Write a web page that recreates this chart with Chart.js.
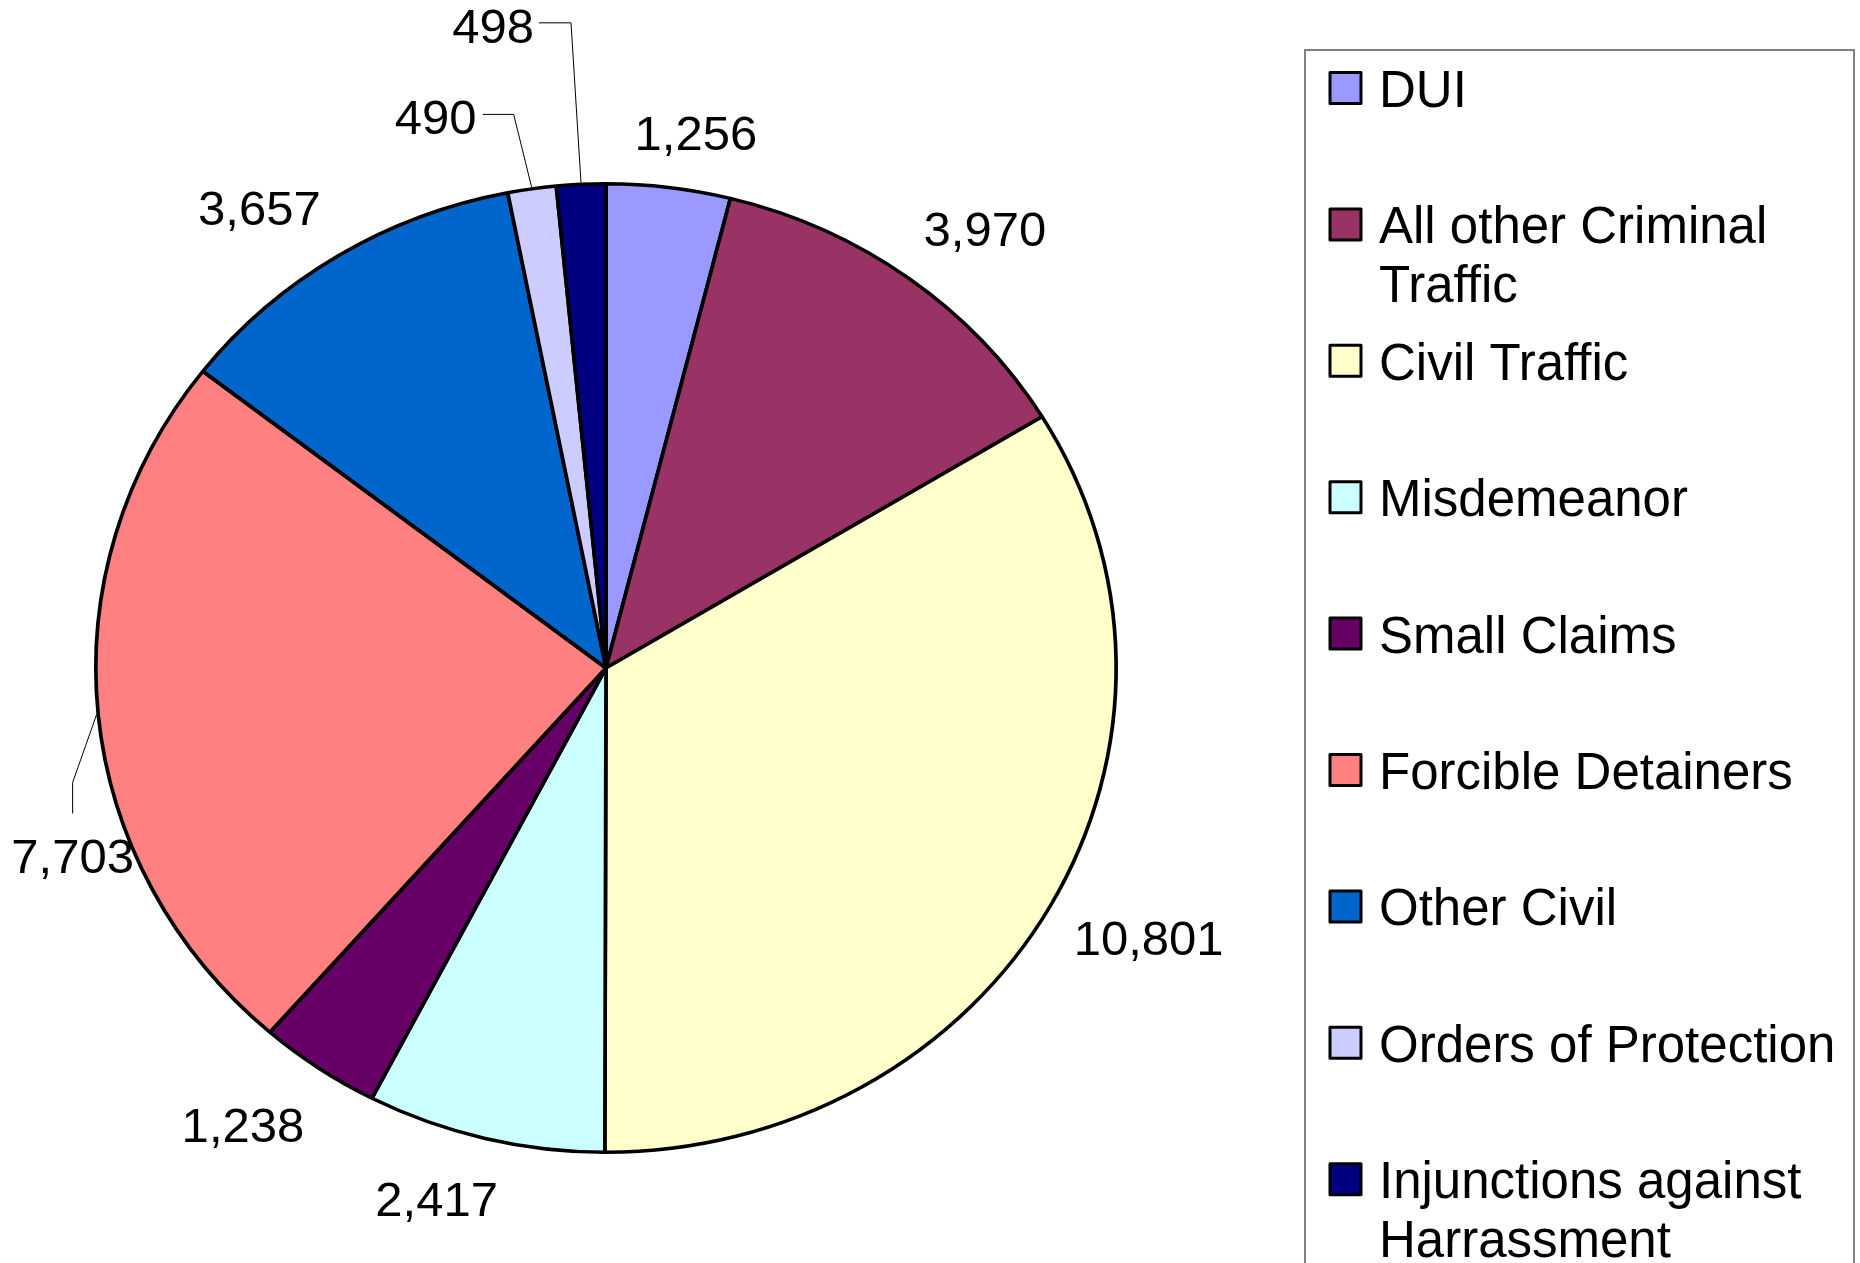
<!DOCTYPE html>
<html>
<head>
<meta charset="utf-8">
<title>Case filings</title>
<script src="https://cdn.jsdelivr.net/npm/chart.js@4.4.1/dist/chart.umd.min.js"></script>
<style>
    html, body { margin: 0; padding: 0; background: #fff; }
    canvas { display: block; }
</style>
</head>
<body>
<canvas id="caseChart" width="1860" height="1263"></canvas>
<script>
const categories = ['DUI', 'All other Criminal Traffic', 'Civil Traffic', 'Misdemeanor', 'Small Claims',
    'Forcible Detainers', 'Other Civil', 'Orders of Protection', 'Injunctions against Harrassment'];
const caseCounts = [1256, 3970, 10801, 2417, 1238, 7703, 3657, 490, 498];
const sliceColors = ['#9999FF', '#993366', '#FFFFCC', '#CCFFFF', '#660066', '#FF8080', '#0066CC', '#CCCCFF', '#000080'];

// where each value label sits, relative to the outer middle of its slice (px)
const labelOffsets = [[27, -53], [75, -49], [97, 31], [-48, 59], [-75, 55], [-24, 141], [-78, -47], [-96, -71], [-88, -157]];
// leader lines for the labels that were pulled away from their slice
const leaderLines = {
    5: [[-24, 68], [-24, 99]],
    7: [[-18, -73], [-49, -73]],
    8: [[-10, -160], [-42, -160]]
};

const FONT = '"Liberation Sans", Arial, sans-serif';
const X_STRETCH = 512 / 486; // the pie is a little wider than tall

const ovalPie = {
    id: 'ovalPie',
    beforeDatasetsDraw(chart) {
        const arc = chart.getDatasetMeta(0).data[0];
        const ctx = chart.ctx;
        ctx.save();
        ctx.translate(arc.x, arc.y);
        ctx.scale(X_STRETCH, 1);
        ctx.translate(-arc.x, -arc.y);
    },
    afterDatasetsDraw(chart) {
        const ctx = chart.ctx;
        ctx.restore();

        const arcs = chart.getDatasetMeta(0).data;
        const values = chart.data.datasets[0].data;
        ctx.save();
        ctx.font = '49px ' + FONT;
        ctx.fillStyle = '#000';
        ctx.textAlign = 'center';
        ctx.textBaseline = 'alphabetic';
        arcs.forEach(function(arc, i) {
            const mid = (arc.startAngle + arc.endAngle) / 2;
            const r = arc.outerRadius + 1.5;
            const px = arc.x + r * X_STRETCH * Math.cos(mid);
            const py = arc.y + r * Math.sin(mid);
            const off = labelOffsets[i];
            ctx.fillText(values[i].toLocaleString('en-US'), px + off[0], py + off[1] + 17.5);

            if (leaderLines[i]) {
                ctx.beginPath();
                ctx.strokeStyle = '#000';
                ctx.lineWidth = 1;
                ctx.moveTo(px, py);
                leaderLines[i].forEach(function(p) {
                    ctx.lineTo(px + p[0], py + p[1]);
                });
                ctx.stroke();
            }
        });
        ctx.restore();
    }
};

const boxLegend = {
    id: 'boxLegend',
    afterDraw(chart) {
        const ctx = chart.ctx;
        ctx.save();
        ctx.strokeStyle = '#808080';
        ctx.lineWidth = 2;
        ctx.strokeRect(1305, 50, 549, 1300);

        ctx.font = '51px ' + FONT;
        ctx.textAlign = 'left';
        ctx.textBaseline = 'alphabetic';
        ctx.lineJoin = 'round';
        const maxWidth = 474;
        chart.data.labels.forEach(function(label, i) {
            const cy = 88 + i * 136.4;
            ctx.fillStyle = sliceColors[i];
            ctx.fillRect(1330, cy - 15.5, 31, 31);
            ctx.strokeStyle = '#000';
            ctx.lineWidth = 3;
            ctx.strokeRect(1330, cy - 15.5, 31, 31);

            // wrap long names onto a second line
            const lines = [];
            let line = '';
            label.split(' ').forEach(function(word) {
                const test = line ? line + ' ' + word : word;
                if (line && ctx.measureText(test).width > maxWidth) {
                    lines.push(line);
                    line = word;
                } else {
                    line = test;
                }
            });
            lines.push(line);

            ctx.fillStyle = '#000';
            lines.forEach(function(text, j) {
                ctx.fillText(text, 1379, cy + 19 + j * 59);
            });
        });
        ctx.restore();
    }
};

const ctx = document.getElementById('caseChart').getContext('2d');
new Chart(ctx, {
    type: 'pie',
    data: {
        labels: categories,
        datasets: [{
            data: caseCounts,
            backgroundColor: sliceColors,
            borderColor: '#000',
            borderWidth: 3.5
        }]
    },
    options: {
        responsive: false,
        animation: false,
        events: [],
        layout: {
            padding: { left: 120, right: 768, top: 182, bottom: 109 }
        },
        plugins: {
            legend: { display: false },
            tooltip: { enabled: false }
        }
    },
    plugins: [ovalPie, boxLegend]
});
</script>
</body>
</html>
